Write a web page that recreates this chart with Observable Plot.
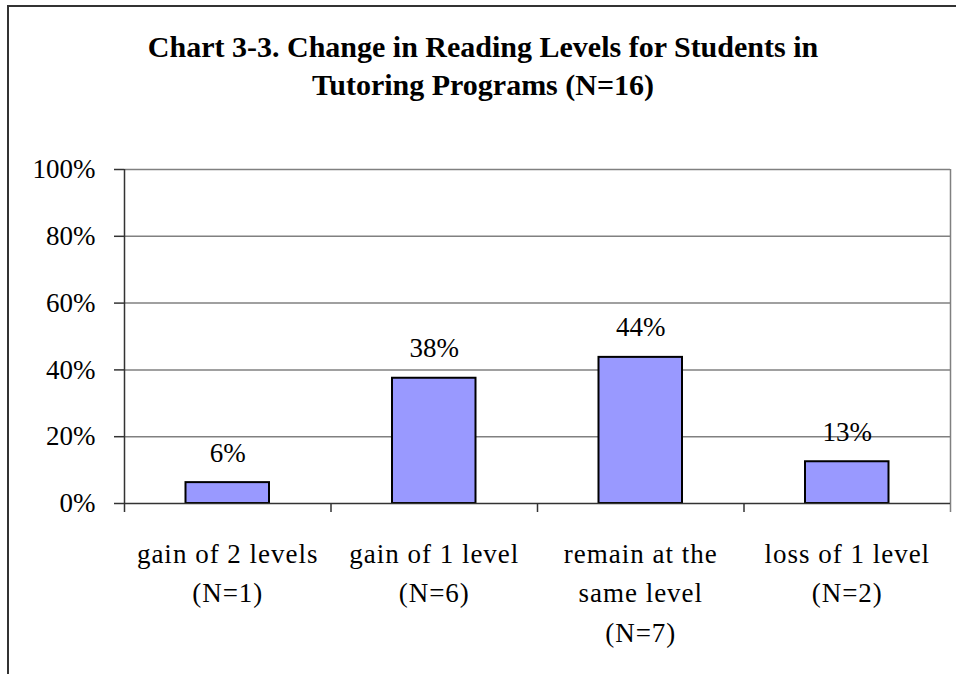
<!DOCTYPE html>
<html>
<head>
<meta charset="utf-8">
<script src="https://cdn.jsdelivr.net/npm/d3@7"></script>
<script src="https://cdn.jsdelivr.net/npm/@observablehq/plot@0.6"></script>
<style>
  html, body { margin: 0; padding: 0; background: #fff; }
  #wrap { position: relative; width: 956px; height: 674px; overflow: hidden; }
  #frame { position: absolute; left: 7px; top: 5px; right: -4px; bottom: -4px; border-top: 2px solid #333; border-left: 2px solid #333; pointer-events: none; }
  #title { position: absolute; left: 8px; width: 950px; top: 28px; text-align: center; font: bold 30px "Liberation Serif", "Times New Roman", serif; line-height: 38px; color: #000; }
  #chart { position: absolute; left: 0; top: 0; }
  .cat text { letter-spacing: 1px; }
</style>
</head>
<body>
<div id="wrap">
  <div id="chart"></div>
  <div id="frame"></div>
  <div id="title">Chart 3-3. Change in Reading Levels for Students in<br>Tutoring Programs (N=16)</div>
</div>
<script>
const categories = ["gain of 2 levels", "gain of 1 level", "remain at the\nsame level", "loss of 1 level"];
const counts = [1, 6, 7, 2];
const shares = [0.0625, 0.375, 0.4375, 0.125];
const valueLabels = ["6%", "38%", "44%", "13%"];
const yTicks = [0, 0.2, 0.4, 0.6, 0.8, 1];
const boundaries = [0, 1, 2, 3, 4];

const data = categories.map((c, i) => ({
  i,
  label: c + "\n(N=" + counts[i] + ")",
  value: shares[i],
  valueLabel: valueLabels[i]
}));

const fs = 27;
const chart = Plot.plot({
  width: 956,
  height: 674,
  marginLeft: 124,
  marginRight: 6,
  marginTop: 169,
  marginBottom: 171,
  x: {domain: [0, 4], axis: null},
  y: {domain: [0, 1]},
  style: {fontFamily: "'Liberation Serif', 'Times New Roman', serif", background: "transparent", color: "#000", overflow: "visible"},
  marks: [
    Plot.ruleY(yTicks.slice(1), {stroke: "#808080", strokeWidth: 1.5}),
    Plot.ruleX([4], {y1: -0.027, y2: 1, stroke: "#808080", strokeWidth: 1.5}),
    Plot.rectY(data, {x1: d => d.i, x2: d => d.i + 1, y: "value", insetLeft: 61.5, insetRight: 61.5, fill: "#9999ff", stroke: "#000", strokeWidth: 2}),
    Plot.ruleX(boundaries.slice(0, 4), {y1: -0.027, y2: d => d === 0 ? 1 : 0, stroke: "#333", strokeWidth: 1.5}),
    Plot.ruleY([0], {stroke: "#333", strokeWidth: 1.5}),
    Plot.axisY({ticks: yTicks, tickFormat: d3.format(".0%"), tickSize: 10, tickPadding: 19, fontSize: fs, stroke: "#333", strokeWidth: 1.5, fill: "#000", label: null}),
    Plot.text(data, {x: d => d.i + 0.5, y: "value", text: "valueLabel", lineAnchor: "bottom", dy: -21, fontSize: fs, fill: "#000"}),
    Plot.text(data, {x: d => d.i + 0.5, y: 0, text: "label", lineAnchor: "top", dy: 32, lineHeight: 1.45, fontSize: fs, fill: "#000", className: "cat"})
  ]
});
document.getElementById("chart").appendChild(chart);
</script>
</body>
</html>
